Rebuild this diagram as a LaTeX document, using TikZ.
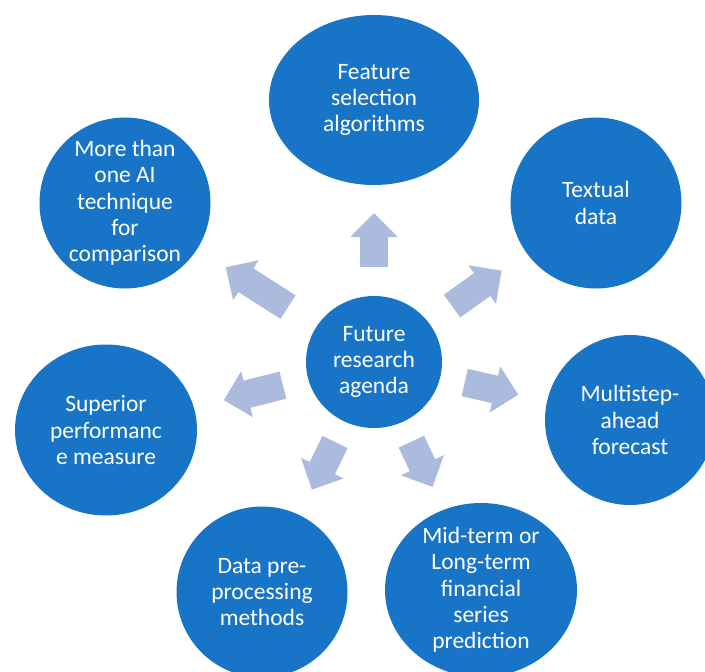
\documentclass[tikz,border=0pt]{standalone}
\usepackage{fontspec}
\setmainfont{Carlito}
\usetikzlibrary{arrows.meta,calc,shapes.geometric}
\definecolor{bubbleBlue}{HTML}{1874C6}
\definecolor{spokeBlue}{HTML}{ABBBDE}

\begin{document}
\begin{tikzpicture}[
    x=1pt, y=-1pt,
    bubble/.style={ellipse, fill=bubbleBlue, inner sep=0pt, minimum width=171pt, minimum height=171pt},
    txt/.style={text=white, align=center, font=\fontsize{23.5}{26.3}\selectfont},
    spoke/.style={draw=spokeBlue, line width=28pt, -{Triangle[width=46pt, length=24pt]}}
  ]
    \useasboundingbox (0,0) rectangle (705,672);

    \node[bubble, minimum width=136pt, minimum height=132pt, label={[txt]center:Future\\research\\agenda}] (hub) at (374,362) {};
    \node[bubble, minimum width=210pt, minimum height=170pt, label={[txt]center:Feature\\selection\\algorithms}] (feature) at (374,100) {};
    \node[bubble, label={[txt]center:Textual\\data}] (textual) at (596,203) {};
    \node[bubble, minimum width=170pt, minimum height=170pt, label={[txt]center:Multistep-\\ahead\\forecast}] (multistep) at (630,420) {};
    \node[bubble, minimum width=192pt, minimum height=174pt, label={[txt]center:Mid-term or\\Long-term\\financial\\series\\prediction}] (midterm) at (481,590) {};
    \node[bubble, label={[txt]center:Data pre-\\processing\\methods}] (datapre) at (262,592) {};
    \node[bubble, minimum width=182pt, label={[txt]center:Superior\\performanc\\e measure}] (superior) at (106,430) {};
    \node[bubble, label={[txt]center:More than\\one AI\\technique\\for\\comparison}] (moreai) at (125,203) {};

    \draw[spoke] ($(hub)!95pt!(feature)$) -- ($(hub)!149pt!(feature)$);
    \draw[spoke] ($(hub)!96pt!(textual)$) -- ($(hub)!157pt!(textual)$);
    \draw[spoke] ($(hub)!93pt!(multistep)$) -- ($(hub)!148pt!(multistep)$);
    \draw[spoke] ($(hub)!88pt!(midterm)$) -- ($(hub)!138pt!(midterm)$);
    \draw[spoke] ($(hub)!89pt!(datapre)$) -- ($(hub)!142pt!(datapre)$);
    \draw[spoke] ($(hub)!94pt!(superior)$) -- ($(hub)!155pt!(superior)$);
    \draw[spoke] ($(hub)!102pt!(moreai)$) -- ($(hub)!176pt!(moreai)$);
  \end{tikzpicture}
\end{document}
